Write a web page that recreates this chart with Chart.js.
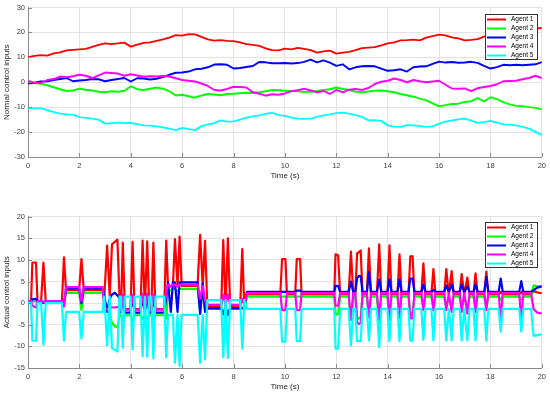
<!DOCTYPE html>
<html>
<head>
<meta charset="utf-8">
<script src="https://cdn.jsdelivr.net/npm/chart.js@4.4.1/dist/chart.umd.min.js"></script>
<style>
  html, body { margin: 0; padding: 0; background: #fff; }
  #wrap { position: relative; width: 550px; height: 394px; }
  canvas { position: absolute; left: 0; }
  #top { top: 0; }
  #bottom { top: 195px; }
</style>
</head>
<body>
<div id="wrap">
  <canvas id="top" width="550" height="195"></canvas>
  <canvas id="bottom" width="550" height="199"></canvas>
</div>
<script>
// Agents and colours (MATLAB r, g, b, m, c)
const AGENTS = ['Agent 1', 'Agent 2', 'Agent 3', 'Agent 4', 'Agent 5'];
const COLORS = ['#ff0000', '#00ff00', '#0000ff', '#ff00ff', '#00ffff'];

// Top panel: normal control inputs, sampled every 0.25 s
const tTop = [
  0, 0.25, 0.5, 0.75, 1, 1.25, 1.5, 1.75, 2, 2.25,
  2.5, 2.75, 3, 3.25, 3.5, 3.75, 4, 4.25, 4.5, 4.75,
  5, 5.25, 5.5, 5.75, 6, 6.25, 6.5, 6.75, 7, 7.25,
  7.5, 7.75, 8, 8.25, 8.5, 8.75, 9, 9.25, 9.5, 9.75,
  10, 10.25, 10.5, 10.75, 11, 11.25, 11.5, 11.75, 12, 12.25,
  12.5, 12.75, 13, 13.25, 13.5, 13.75, 14, 14.25, 14.5, 14.75,
  15, 15.25, 15.5, 15.75, 16, 16.25, 16.5, 16.75, 17, 17.25,
  17.5, 17.75, 18, 18.25, 18.5, 18.75, 19, 19.25, 19.5, 19.75,
  20
];
const norm1 = [
  10.0, 10.6, 10.9, 10.7, 11.6, 12.0, 12.8, 13.0, 13.2, 13.4,
  14.2, 15.0, 15.6, 15.3, 15.6, 15.9, 14.3, 15.1, 15.8, 16.0,
  16.6, 17.2, 17.9, 18.9, 18.7, 19.3, 19.2, 18.2, 17.2, 16.7,
  16.9, 16.6, 16.5, 16.0, 15.3, 15.0, 14.6, 13.6, 12.9, 12.8,
  13.5, 13.2, 13.8, 13.4, 12.9, 11.9, 12.4, 12.7, 11.5, 11.9,
  12.2, 12.9, 13.7, 13.9, 14.1, 14.8, 15.6, 16.0, 16.8, 16.9,
  17.1, 16.8, 17.9, 18.5, 19.1, 18.8, 18.0, 17.6, 16.8, 17.0,
  17.3, 18.3, 18.8, 19.0, 19.5, 19.8, 20.3, 20.6, 21.0, 21.5,
  21.8
];
const norm2 = [
  0.0, -0.3, -0.6, -1.2, -2.0, -2.8, -3.5, -3.3, -2.6, -3.0,
  -3.3, -3.8, -4.0, -3.6, -3.8, -3.4, -1.6, -2.8, -3.1, -2.6,
  -2.1, -2.6, -3.6, -5.3, -5.0, -5.6, -6.2, -5.3, -4.7, -4.9,
  -5.2, -4.7, -4.6, -4.4, -4.2, -4.3, -4.0, -3.6, -3.1, -3.2,
  -3.4, -3.5, -3.6, -3.9, -3.8, -3.5, -3.1, -2.8, -2.1, -2.7,
  -3.1, -3.8, -4.0, -3.7, -3.4, -3.3, -3.6, -4.0, -4.7, -5.2,
  -5.8, -6.6, -7.3, -8.5, -9.7, -9.2, -8.7, -8.6, -7.9, -7.6,
  -6.4, -7.7, -6.0, -6.8, -8.0, -8.9, -9.5, -9.6, -10.0, -10.3,
  -10.9
];
const norm3 = [
  -0.4, -0.2, 0.3, 0.4, 0.9, 1.3, 1.7, 0.4, 0.7, 0.9,
  1.3, 1.2, 0.4, 0.9, 1.3, 1.7, 0.3, 1.6, 1.5, 1.1,
  1.4, 2.1, 3.0, 3.8, 3.9, 4.3, 5.2, 5.4, 6.0, 7.1,
  7.2, 7.0, 5.5, 5.7, 6.1, 6.5, 8.1, 8.0, 7.6, 7.6,
  7.7, 7.5, 7.7, 8.2, 9.1, 8.0, 8.8, 7.9, 6.6, 7.2,
  5.2, 6.0, 6.4, 6.5, 6.4, 5.5, 4.6, 4.8, 5.2, 4.3,
  6.0, 6.3, 6.4, 7.4, 8.3, 7.9, 8.1, 7.8, 7.9, 8.2,
  7.8, 6.6, 5.5, 6.1, 7.0, 6.8, 7.0, 6.8, 7.0, 7.2,
  8.1
];
const norm4 = [
  0.5, -0.2, -0.3, 0.9, 1.3, 2.3, 2.0, 2.4, 3.0, 2.6,
  1.7, 2.8, 3.9, 3.7, 3.5, 2.6, 3.2, 2.7, 2.2, 2.4,
  2.3, 2.5, 2.3, 1.6, 0.9, 0.6, 0.3, -0.5, -1.5, -3.1,
  -3.3, -2.7, -1.8, -1.9, -2.1, -4.0, -4.6, -5.4, -4.8, -5.0,
  -4.5, -3.6, -3.2, -2.6, -3.3, -4.0, -3.5, -4.7, -3.1, -4.1,
  -3.0, -2.7, -3.1, -2.3, -0.7, 0.2, 0.6, 1.5, 0.9, 0.0,
  0.9, 0.4, 0.0, 0.3, 0.6, -1.0, -2.5, -2.6, -2.5, -3.6,
  -2.4, -1.9, -1.5, -0.8, 0.4, 0.5, 0.6, 1.2, 1.7, 2.6,
  1.7
];
const norm5 = [
  -10.3, -10.5, -10.4, -11.2, -12.0, -12.6, -12.9, -13.0, -14.0, -14.3,
  -14.6, -15.0, -16.6, -16.4, -16.2, -16.4, -16.3, -16.8, -17.3, -17.4,
  -17.7, -18.1, -18.6, -19.2, -18.3, -18.8, -19.2, -17.6, -16.9, -16.4,
  -15.3, -15.8, -15.7, -15.0, -14.2, -13.7, -13.3, -12.7, -12.2, -13.2,
  -13.5, -14.2, -14.6, -14.7, -14.6, -13.9, -13.3, -12.9, -12.4, -12.2,
  -12.6, -13.2, -13.9, -15.3, -15.2, -15.5, -17.3, -17.8, -17.9, -17.2,
  -17.3, -17.6, -17.9, -17.7, -16.6, -15.8, -15.3, -14.9, -14.6, -15.4,
  -16.3, -16.0, -15.5, -16.2, -16.9, -17.0, -17.3, -17.9, -18.6, -19.9,
  -21.2
];

// Bottom panel: actual (switched) control inputs, breakpoints in seconds
const tAct = [
  0, 0.12, 0.17, 0.31, 0.37, 0.51, 0.60, 0.69, 1.32, 1.40,
  1.48, 1.99, 2.08, 2.17, 2.90, 2.97, 3.08, 3.18, 3.27, 3.38,
  3.48, 3.56, 3.62, 3.69, 3.77, 3.99, 4.07, 4.15, 4.38, 4.46,
  4.55, 4.64, 4.72, 4.80, 4.88, 4.96, 5.30, 5.38, 5.45, 5.56,
  5.64, 5.72, 5.82, 5.90, 5.98, 6.60, 6.70, 6.80, 6.89, 6.98,
  7.52, 7.60, 7.69, 7.78, 7.87, 8.26, 8.34, 8.42, 8.52, 9.82,
  9.89, 10.02, 10.08, 10.40, 10.46, 10.59, 10.65, 11.92, 11.97, 12.07,
  12.15, 12.48, 12.57, 12.66, 12.74, 12.81, 12.88, 12.95, 13.02, 13.19,
  13.27, 13.35, 13.58, 13.67, 13.75, 13.99, 14.07, 14.15, 14.38, 14.46,
  14.54, 14.81, 14.88, 14.97, 15.04, 15.31, 15.39, 15.47, 15.70, 15.78,
  15.86, 16.20, 16.28, 16.38, 16.49, 16.57, 16.80, 16.88, 16.98, 17.10,
  17.19, 17.34, 17.42, 17.50, 17.76, 17.84, 17.92, 18.32, 18.40, 18.48,
  19.12, 19.20, 19.28, 19.58, 19.68, 19.82, 20.00
];
const act1 = [
  0.5, 0.5, 9.4, 9.4, 0.5, 0.5, 9.4, 0.5, 0.5, 10.6,
  3.0, 3.0, 10.2, 3.0, 3.0, 1.6, 13.3, 1.6, 13.6, 14.2,
  14.7, 1.6, -1.4, 14.0, -1.4, -1.4, 14.2, -1.4, -1.4, 14.5,
  -1.4, 14.3, -1.4, -1.4, 14.0, -1.4, -1.4, 14.5, 4.0, 4.0,
  4.0, 14.8, 4.0, 15.4, 4.0, 4.0, 15.8, 4.0, 14.4, -0.8,
  -0.8, 14.6, -0.8, 15.0, -0.8, -0.8, 12.5, -0.8, 2.0, 2.0,
  10.2, 10.2, 2.0, 2.0, 10.2, 10.2, 2.0, 2.0, 11.3, 11.1,
  2.0, 2.0, 11.9, 2.0, 2.0, 11.5, 11.8, 12.2, 2.0, 2.0,
  12.7, 2.0, 2.0, 13.6, 2.0, 2.0, 13.4, 2.0, 2.0, 11.3,
  2.0, 2.0, 10.8, 10.8, 2.0, 2.0, 9.2, 2.0, 2.0, 7.9,
  2.0, 2.0, 7.9, 2.0, 7.4, 2.0, 2.0, 6.7, 2.0, 5.9,
  2.0, 2.0, 6.9, 2.0, 2.0, 7.3, 2.0, 2.0, 2.6, 2.0,
  2.0, 2.6, 2.0, 2.0, 2.8, 2.5, 2.3
];
const act2 = [
  0.4, 0.4, 0.4, 0.4, 0.4, 0.4, 0.4, 0.4, 0.4, 0.0,
  2.4, 2.4, -1.6, 2.4, 2.4, 0.5, -1.5, -3.0, -4.5, -5.4,
  -5.5, -3.0, -2.8, -3.6, -2.8, -2.8, -3.8, -2.8, -2.8, -3.6,
  -2.8, -3.6, -2.8, -2.8, -3.5, -2.8, -2.8, -3.6, 3.3, 3.0,
  3.3, 3.3, 2.8, 3.3, 3.3, 3.3, -2.0, 3.0, -1.5, -1.3,
  -1.3, -1.8, -1.3, -1.8, -1.3, -1.3, -1.0, -1.3, 1.5, 1.5,
  1.5, 1.5, 1.5, 1.5, 1.5, 1.5, 1.5, 1.5, -2.6, -2.6,
  1.5, 1.5, -3.9, 1.5, 1.5, -3.2, -3.6, -3.2, 1.5, 1.5,
  -3.2, 1.5, 1.5, -4.7, 1.5, 1.5, -3.2, 1.5, 1.5, -2.6,
  1.5, 1.5, -2.5, -2.5, 1.5, 1.5, -1.0, 1.5, 1.5, -1.0,
  1.5, 1.5, -1.0, 1.5, -1.0, 1.5, 1.5, -1.0, 1.5, -1.0,
  1.5, 1.5, -1.0, 1.5, 1.5, -1.0, 1.5, 1.5, 0.8, 1.5,
  1.5, 0.8, 1.5, 1.5, 4.1, 3.9, 3.9
];
const act3 = [
  0.5, 0.5, 0.9, 1.0, 0.5, 0.5, 0.0, 0.5, 0.5, -0.5,
  3.4, 3.4, 0.0, 3.4, 3.4, 1.8, -2.0, 1.0, 2.0, 2.4,
  1.8, 1.2, -2.2, 1.5, -2.2, -2.2, 1.5, -2.2, -2.2, 1.5,
  -2.2, 1.5, -2.2, -2.2, 1.5, -2.2, -2.2, 1.5, 4.8, -2.0,
  4.8, 4.8, -2.0, 4.8, 4.8, 4.8, -2.5, 4.5, -2.0, -1.2,
  -1.2, -2.6, -1.2, -2.7, -1.2, -1.2, -1.2, -1.2, 2.6, 2.6,
  2.6, 2.6, 2.6, 2.6, 2.9, 2.9, 2.6, 2.6, 4.0, 4.0,
  2.6, 2.6, 5.0, 2.6, 2.6, 5.8, 6.3, 6.2, 2.6, 2.6,
  7.2, 2.6, 2.6, 5.5, 2.6, 2.6, 5.5, 2.6, 2.6, 5.5,
  2.6, 2.6, 5.7, 5.7, 2.6, 2.6, 4.3, 2.6, 2.6, 3.1,
  2.6, 2.6, 4.1, 2.6, 4.3, 2.6, 2.6, 4.3, 2.6, 3.8,
  2.6, 2.6, 4.3, 2.6, 2.6, 6.1, 2.6, 2.6, 5.7, 2.6,
  2.6, 5.1, 2.6, 2.6, 3.0, 3.6, 3.9
];
const act4 = [
  0.5, 0.5, -0.6, -1.0, 0.5, 0.5, 0.3, 0.5, 0.5, -0.8,
  3.7, 3.7, 0.5, 3.7, 3.7, -0.9, -1.5, -0.9, -1.0, -1.0,
  -0.9, -0.9, -1.5, 2.0, -1.5, -1.5, 2.0, -1.5, -1.5, 2.2,
  -1.5, 2.2, -1.5, -1.5, 2.0, -1.5, -1.5, 2.5, 4.3, 3.8,
  4.3, 4.3, 3.8, 4.3, 4.3, 4.3, 1.0, 4.0, 0.5, -0.4,
  -0.4, 2.0, -0.4, 2.0, -0.4, -0.4, 1.0, -0.4, 2.3, 2.3,
  -1.6, -1.6, 2.3, 2.3, -1.6, -1.6, 2.3, 2.3, -0.6, -0.6,
  2.3, 2.3, -3.9, 2.3, 2.3, -4.5, -4.8, -4.6, 2.3, 2.3,
  -3.3, 2.3, 2.3, -3.6, 2.3, 2.3, -3.8, 2.3, 2.3, -3.5,
  2.3, 2.3, -3.5, -3.5, 2.3, 2.3, -1.6, 2.3, 2.3, -1.6,
  2.3, 2.3, -1.6, 2.3, -2.0, 2.3, 2.3, -2.0, 2.3, -2.4,
  2.3, 2.3, -2.0, 2.3, 2.3, -1.6, 2.3, 2.3, -3.9, 2.3,
  2.3, -4.3, 2.3, 2.3, -1.4, -2.2, -2.4
];
const act5 = [
  0.0, 0.0, -8.7, -8.7, 0.0, 0.0, -9.6, 0.0, 0.0, -8.7,
  -2.0, -2.0, -8.2, -2.0, -2.0, 1.5, -9.8, 1.5, -10.4, -10.8,
  -11.2, 1.5, 1.5, -10.3, 1.5, 1.5, -10.7, 1.5, 1.5, -12.3,
  1.5, -12.4, 1.5, 1.5, -12.8, 1.5, 1.5, -12.5, -2.7, -2.7,
  -2.7, -13.8, -2.7, -14.6, -2.7, -2.7, -13.8, -2.7, -13.0, 0.7,
  0.7, -12.5, 0.7, -12.7, 0.7, 0.7, -10.5, 0.7, -1.3, -1.3,
  -8.9, -8.9, -1.3, -1.3, -8.8, -8.8, -1.3, -1.3, -10.5, -10.5,
  -1.3, -1.3, -9.8, -1.3, -1.3, -8.8, -8.8, -8.8, -1.3, -1.3,
  -8.6, -1.3, -1.3, -10.1, -1.3, -1.3, -8.8, -1.3, -1.3, -8.8,
  -1.3, -1.3, -8.7, -8.7, -1.3, -1.3, -8.5, -1.3, -1.3, -8.6,
  -1.3, -1.3, -8.6, -1.3, -8.6, -1.3, -1.3, -8.7, -1.3, -8.6,
  -1.3, -1.3, -8.6, -1.3, -1.3, -8.7, -1.3, -1.3, -6.6, -1.3,
  -1.3, -6.6, -1.3, -1.3, -7.6, -7.4, -7.2
];

const GRID = '#e3e3e3';
const AXIS = '#8a8a8a';
const TEXT = '#404040';
const FONT = '"Liberation Sans", Arial, Helvetica, sans-serif';

function toPoints(ts, ys) {
  return ts.map((t, i) => ({ x: t, y: ys[i] }));
}

// MATLAB style ticks pointing into the axes
const innerTicks = {
  id: 'innerTicks',
  afterDatasetsDraw(chart) {
    const { ctx, chartArea: a, scales: { x, y } } = chart;
    ctx.save();
    ctx.strokeStyle = AXIS;
    ctx.lineWidth = 1;
    ctx.beginPath();
    x.ticks.forEach(tk => {
      const px = Math.round(x.getPixelForValue(tk.value)) + 0.5;
      ctx.moveTo(px, a.bottom);
      ctx.lineTo(px, a.bottom - 4);
    });
    y.ticks.forEach(tk => {
      const py = Math.round(y.getPixelForValue(tk.value)) + 0.5;
      ctx.moveTo(a.left, py);
      ctx.lineTo(a.left + 4, py);
    });
    ctx.stroke();
    ctx.restore();
  }
};

// Boxed legend inside the top-right corner of the plot
const legendBox = {
  id: 'legendBox',
  afterDraw(chart, args, opts) {
    const { ctx, chartArea } = chart;
    const w = 52, h = 45;
    const left = Math.round(chartArea.right - 5 - w);
    const top = Math.round(chartArea.top + opts.offset);
    ctx.save();
    ctx.fillStyle = '#fff';
    ctx.fillRect(left, top, w, h);
    ctx.strokeStyle = '#333';
    ctx.lineWidth = 1;
    ctx.strokeRect(left + 0.5, top + 0.5, w, h);
    ctx.font = '6.5px ' + FONT;
    ctx.textBaseline = 'middle';
    chart.data.datasets.forEach((ds, i) => {
      const y = top + 5.5 + i * 9;
      ctx.strokeStyle = ds.borderColor;
      ctx.lineWidth = 2;
      ctx.beginPath();
      ctx.moveTo(left + 2, y);
      ctx.lineTo(left + 21, y);
      ctx.stroke();
      ctx.fillStyle = '#000';
      ctx.fillText(ds.label, left + 26, y);
    });
    ctx.restore();
  }
};

function makeChart(id, cfg) {
  return new Chart(document.getElementById(id), {
    type: 'line',
    data: {
      datasets: cfg.series.map((ys, i) => ({
        label: AGENTS[i],
        data: toPoints(cfg.t, ys),
        borderColor: COLORS[i],
        borderWidth: cfg.lineWidth,
        borderJoinStyle: 'round',
        pointRadius: 0,
        tension: 0,
        fill: false,
        order: AGENTS.length - i, // later agents drawn on top, like MATLAB
      })),
    },
    options: {
      responsive: false,
      animation: false,
      events: [],
      layout: { padding: { top: cfg.padTop, right: 7, bottom: 0, left: 0 } },
      plugins: {
        legend: { display: false },
        tooltip: { enabled: false },
        legendBox: { offset: cfg.legendOffset },
      },
      scales: {
        x: {
          type: 'linear',
          min: 0,
          max: 20,
          ticks: { stepSize: 2, padding: 4, maxRotation: 0, color: TEXT, font: { family: FONT, size: 7.5 } },
          grid: { color: GRID, drawTicks: false },
          border: { color: AXIS },
          title: {
            display: true,
            text: 'Time (s)',
            color: '#262626',
            font: { family: FONT, size: 8 },
            padding: { top: 0, bottom: cfg.xTitlePad },
          },
          afterFit: s => { s.height = cfg.xHeight; },
        },
        y: {
          min: cfg.yMin,
          max: cfg.yMax,
          ticks: { stepSize: cfg.yStep, padding: 3, color: TEXT, font: { family: FONT, size: 7.5 } },
          grid: { color: GRID, drawTicks: false },
          border: { color: AXIS },
          title: {
            display: true,
            text: cfg.yTitle,
            color: '#262626',
            font: { family: FONT, size: 8 },
            padding: { top: 2, bottom: 0 },
          },
          afterFit: s => { s.width = 28; },
        },
      },
    },
    plugins: [innerTicks, legendBox],
  });
}

makeChart('top', {
  t: tTop,
  series: [norm1, norm2, norm3, norm4, norm5],
  lineWidth: 1.9,
  padTop: 6,
  xHeight: 38,
  xTitlePad: 14.2,
  yMin: -30, yMax: 30, yStep: 10,
  yTitle: 'Normal control inputs',
  legendOffset: 6,
});

makeChart('bottom', {
  t: tAct,
  series: [act1, act2, act3, act4, act5],
  lineWidth: 2.2,
  padTop: 21.7,
  xHeight: 26,
  xTitlePad: 2.2,
  yMin: -15, yMax: 20, yStep: 5,
  yTitle: 'Actual control inputs',
  legendOffset: 5.6,
});
</script>
</body>
</html>
